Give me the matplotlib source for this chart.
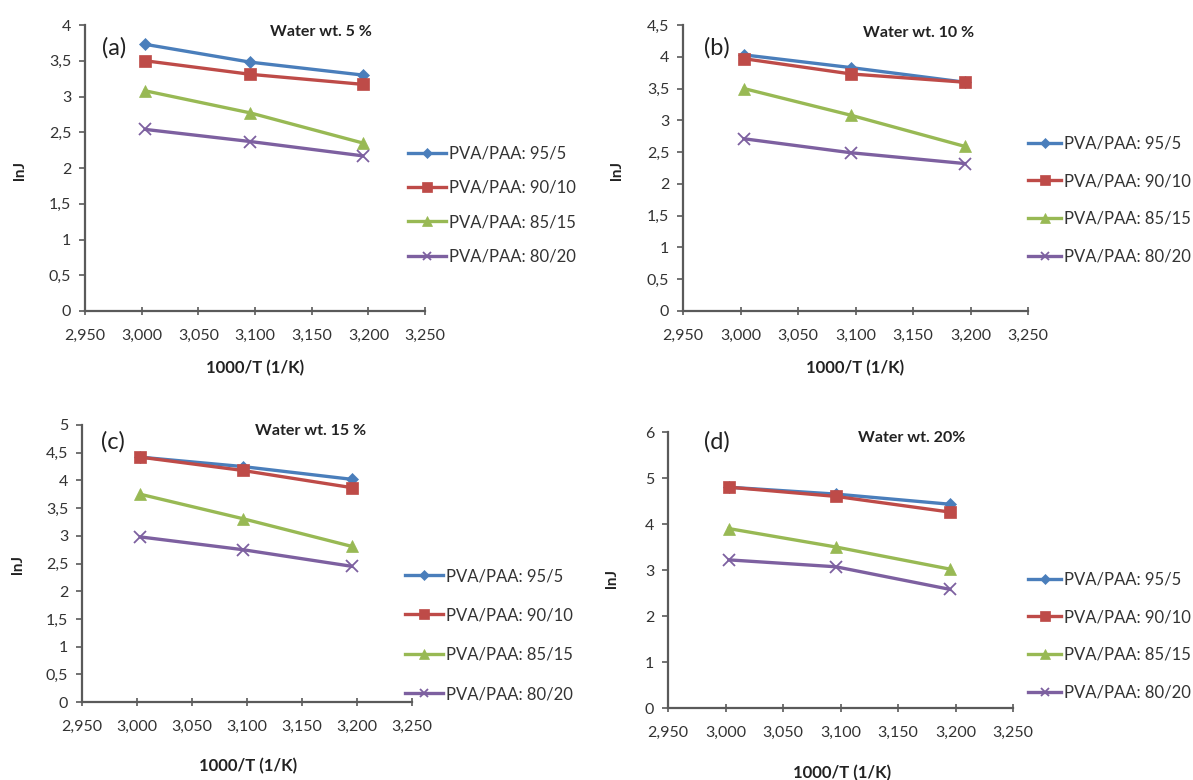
import numpy as np
import matplotlib
matplotlib.use("Agg")
import matplotlib.pyplot as plt
from matplotlib.ticker import FuncFormatter, MultipleLocator

plt.rcParams["font.family"] = ["Lato", "DejaVu Sans"]

# 1000/T (1/K) at 60, 50, 40 C
x_inv_t = [3.003, 3.096, 3.195]
series_labels = ["PVA/PAA: 95/5", "PVA/PAA: 90/10", "PVA/PAA: 85/15", "PVA/PAA: 80/20"]
panel_tags = ["(a)", "(b)", "(c)", "(d)"]
panel_titles = ["Water wt. 5 %", "Water wt. 10 %", "Water wt. 15 %", "Water wt. 20%"]

# lnJ values, one list per series, per panel
lnj_a = [[3.73, 3.48, 3.30], [3.50, 3.31, 3.17], [3.08, 2.77, 2.35], [2.54, 2.37, 2.17]]
lnj_b = [[4.03, 3.83, 3.60], [3.97, 3.73, 3.60], [3.50, 3.08, 2.59], [2.71, 2.49, 2.32]]
lnj_c = [[4.42, 4.25, 4.02], [4.42, 4.18, 3.87], [3.75, 3.31, 2.81], [2.98, 2.75, 2.45]]
lnj_d = [[4.80, 4.65, 4.43], [4.80, 4.60, 4.26], [3.90, 3.50, 3.02], [3.22, 3.07, 2.58]]
y_max = [4, 4.5, 5, 6]
y_step = [0.5, 0.5, 0.5, 1]

colors = ["#4A7EBB", "#BE4B48", "#98B954", "#7D60A0"]
markers = ["D", "s", "^", "x"]
msizes = [6.5, 9, 8.5, 8]

W, H = 1193, 780
fig = plt.figure(figsize=(W / 100, H / 100), dpi=100)


def px_axes(left, right, top, bottom):
    return fig.add_axes([left / W, 1 - bottom / H, (right - left) / W, (bottom - top) / H])


# pixel boxes: left, right, top, bottom
boxes = [(85, 425, 25, 311), (683, 1028, 25, 311), (82, 412, 425, 702), (668, 1013, 432, 708)]
# legend: handle start x, centre y, label spacing, handle length
legend_pos = [(408, 205, 1.1, 2.3), (1028, 200, 1.3, 2.0), (405, 635, 1.4, 2.3), (1028, 636, 1.3, 2.0)]
title_pos = [(321, 32), (919, 33), (311, 431), (912, 438)]
tag_pos = [(114, 48), (717, 48), (113, 442), (717, 442)]
ylabel_pos = [(20, 170), (617, 170), (18, 565), (612, 578)]
xlabel_pos = [(255, 368), (855, 368), (248, 766), (842, 773)]

comma = FuncFormatter(lambda v, p: f"{v:g}".replace(".", ","))
comma3 = FuncFormatter(lambda v, p: f"{v:.3f}".replace(".", ","))

for i, data in enumerate([lnj_a, lnj_b, lnj_c, lnj_d]):
    ax = px_axes(*boxes[i])
    for j, ys in enumerate(data):
        ax.plot(x_inv_t, ys, color=colors[j], lw=2.4, marker=markers[j], ms=msizes[j],
                mfc=colors[j], mec=colors[j], mew=1.3 if markers[j] == "x" else 0.5,
                label=series_labels[j], clip_on=False)
    ax.set_xlim(2.95, 3.25)
    ax.set_ylim(0, y_max[i])
    ax.xaxis.set_major_locator(MultipleLocator(0.05))
    ax.yaxis.set_major_locator(MultipleLocator(y_step[i]))
    ax.xaxis.set_major_formatter(comma3)
    ax.yaxis.set_major_formatter(comma)
    for s in ["top", "right"]:
        ax.spines[s].set_visible(False)
    for s in ["left", "bottom"]:
        ax.spines[s].set_color("#5a5a5a")
        ax.spines[s].set_linewidth(1.6)
    ax.tick_params(axis="x", direction="inout", length=6, width=1.2, color="#5a5a5a",
                   labelsize=11.5, labelcolor="#333333", pad=10)
    ax.tick_params(axis="y", direction="out", length=4, width=1.2, color="#5a5a5a",
                   labelsize=11.5, labelcolor="#333333", pad=6)

    lx, ly, sp, hl = legend_pos[i]
    ax.legend(loc="center left", bbox_to_anchor=(lx / W, 1 - ly / H),
              bbox_transform=fig.transFigure, frameon=False, fontsize=12,
              borderpad=0, borderaxespad=0, handlelength=hl, handletextpad=0.15,
              labelspacing=sp, markerscale=0.8, labelcolor="#333333")

    tx, ty = title_pos[i]
    fig.text(tx / W, 1 - ty / H, panel_titles[i], ha="center", va="center",
             fontsize=11.5, fontweight="bold", color="#222222")
    gx, gy = tag_pos[i]
    fig.text(gx / W, 1 - gy / H, panel_tags[i], ha="center", va="center",
             fontsize=17, color="#222222")
    yx, yy = ylabel_pos[i]
    fig.text(yx / W, 1 - yy / H, "lnJ", ha="center", va="center", rotation=90,
             fontsize=11, fontweight="bold", color="#222222")
    xx, xy = xlabel_pos[i]
    fig.text(xx / W, 1 - xy / H, "1000/T (1/K)", ha="center", va="center",
             fontsize=12, fontweight="bold", color="#222222")

fig.savefig("out.png", dpi=100)
